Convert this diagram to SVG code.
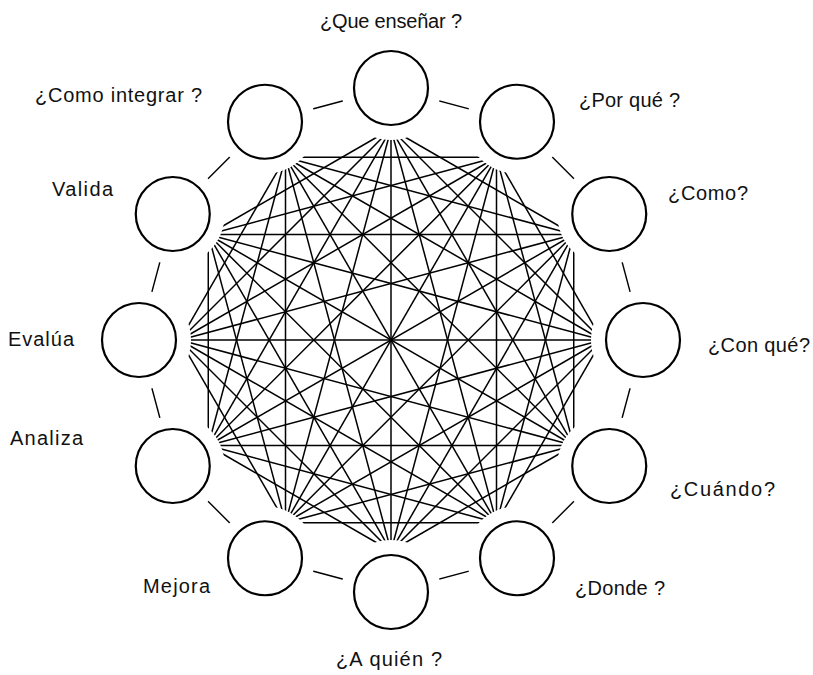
<svg xmlns="http://www.w3.org/2000/svg" width="813" height="675" viewBox="0 0 813 675">
<style>
.node circle{fill:none;stroke:#000;stroke-width:2.2}
.lbl{font-family:"Liberation Sans","DejaVu Sans",sans-serif;font-size:20px;fill:#111}
.ch line{stroke:#000;stroke-width:1.5}
.adj line{stroke:#000;stroke-width:1.4}
</style>
<defs>
<mask id="mIn" maskUnits="userSpaceOnUse" x="0" y="0" width="813" height="675">
<rect x="0" y="0" width="813" height="675" fill="#fff"/>
<g fill="#000">
<circle cx="391" cy="88" r="52"/><circle cx="517" cy="121.76" r="52"/><circle cx="609.24" cy="214" r="52"/>
<circle cx="643" cy="340" r="52"/><circle cx="609.24" cy="466" r="52"/><circle cx="517" cy="558.24" r="52"/>
<circle cx="391" cy="592" r="52"/><circle cx="265" cy="558.24" r="52"/><circle cx="172.76" cy="466" r="52"/>
<circle cx="139" cy="340" r="52"/><circle cx="172.76" cy="214" r="52"/><circle cx="265" cy="121.76" r="52"/>
</g>
</mask>
<mask id="mOut" maskUnits="userSpaceOnUse" x="0" y="0" width="813" height="675">
<rect x="0" y="0" width="813" height="675" fill="#fff"/>
<g fill="#000">
<circle cx="391" cy="88" r="50"/><circle cx="517" cy="121.76" r="50"/><circle cx="609.24" cy="214" r="50"/>
<circle cx="643" cy="340" r="50"/><circle cx="609.24" cy="466" r="50"/><circle cx="517" cy="558.24" r="50"/>
<circle cx="391" cy="592" r="50"/><circle cx="265" cy="558.24" r="50"/><circle cx="172.76" cy="466" r="50"/>
<circle cx="139" cy="340" r="50"/><circle cx="172.76" cy="214" r="50"/><circle cx="265" cy="121.76" r="50"/>
</g>
</mask>
</defs>
<rect x="0" y="0" width="813" height="675" fill="#fff"/>
<g id="connectors">
<g class="ch" mask="url(#mIn)">
<!-- skip 2 -->
<line x1="391" y1="129" x2="573.73" y2="234.5"/>
<line x1="496.5" y1="157.27" x2="602" y2="340"/>
<line x1="573.73" y1="234.5" x2="573.73" y2="445.5"/>
<line x1="602" y1="340" x2="496.5" y2="522.73"/>
<line x1="573.73" y1="445.5" x2="391" y2="551"/>
<line x1="496.5" y1="522.73" x2="285.5" y2="522.73"/>
<line x1="391" y1="551" x2="208.27" y2="445.5"/>
<line x1="285.5" y1="522.73" x2="180" y2="340"/>
<line x1="208.27" y1="445.5" x2="208.27" y2="234.5"/>
<line x1="180" y1="340" x2="285.5" y2="157.27"/>
<line x1="208.27" y1="234.5" x2="391" y2="129"/>
<line x1="285.5" y1="157.27" x2="496.5" y2="157.27"/>
<!-- skip 3 -->
<line x1="391" y1="129" x2="602" y2="340"/>
<line x1="496.5" y1="157.27" x2="573.73" y2="445.5"/>
<line x1="573.73" y1="234.5" x2="496.5" y2="522.73"/>
<line x1="602" y1="340" x2="391" y2="551"/>
<line x1="573.73" y1="445.5" x2="285.5" y2="522.73"/>
<line x1="496.5" y1="522.73" x2="208.27" y2="445.5"/>
<line x1="391" y1="551" x2="180" y2="340"/>
<line x1="285.5" y1="522.73" x2="208.27" y2="234.5"/>
<line x1="208.27" y1="445.5" x2="285.5" y2="157.27"/>
<line x1="180" y1="340" x2="391" y2="129"/>
<line x1="208.27" y1="234.5" x2="496.5" y2="157.27"/>
<line x1="285.5" y1="157.27" x2="573.73" y2="234.5"/>
<!-- skip 4 -->
<line x1="391" y1="129" x2="573.73" y2="445.5"/>
<line x1="496.5" y1="157.27" x2="496.5" y2="522.73"/>
<line x1="573.73" y1="234.5" x2="391" y2="551"/>
<line x1="602" y1="340" x2="285.5" y2="522.73"/>
<line x1="573.73" y1="445.5" x2="208.27" y2="445.5"/>
<line x1="496.5" y1="522.73" x2="180" y2="340"/>
<line x1="391" y1="551" x2="208.27" y2="234.5"/>
<line x1="285.5" y1="522.73" x2="285.5" y2="157.27"/>
<line x1="208.27" y1="445.5" x2="391" y2="129"/>
<line x1="180" y1="340" x2="496.5" y2="157.27"/>
<line x1="208.27" y1="234.5" x2="573.73" y2="234.5"/>
<line x1="285.5" y1="157.27" x2="602" y2="340"/>
<!-- skip 5 -->
<line x1="391" y1="129" x2="496.5" y2="522.73"/>
<line x1="496.5" y1="157.27" x2="391" y2="551"/>
<line x1="573.73" y1="234.5" x2="285.5" y2="522.73"/>
<line x1="602" y1="340" x2="208.27" y2="445.5"/>
<line x1="573.73" y1="445.5" x2="180" y2="340"/>
<line x1="496.5" y1="522.73" x2="208.27" y2="234.5"/>
<line x1="391" y1="551" x2="285.5" y2="157.27"/>
<line x1="285.5" y1="522.73" x2="391" y2="129"/>
<line x1="208.27" y1="445.5" x2="496.5" y2="157.27"/>
<line x1="180" y1="340" x2="573.73" y2="234.5"/>
<line x1="208.27" y1="234.5" x2="602" y2="340"/>
<line x1="285.5" y1="157.27" x2="573.73" y2="445.5"/>
<!-- skip 6 -->
<line x1="391" y1="129" x2="391" y2="551"/>
<line x1="496.5" y1="157.27" x2="285.5" y2="522.73"/>
<line x1="573.73" y1="234.5" x2="208.27" y2="445.5"/>
<line x1="602" y1="340" x2="180" y2="340"/>
<line x1="573.73" y1="445.5" x2="208.27" y2="234.5"/>
<line x1="496.5" y1="522.73" x2="285.5" y2="157.27"/>
</g>
<g class="adj" mask="url(#mOut)">
<line x1="391" y1="88" x2="517" y2="121.76"/>
<line x1="517" y1="121.76" x2="609.24" y2="214"/>
<line x1="609.24" y1="214" x2="643" y2="340"/>
<line x1="643" y1="340" x2="609.24" y2="466"/>
<line x1="609.24" y1="466" x2="517" y2="558.24"/>
<line x1="517" y1="558.24" x2="391" y2="592"/>
<line x1="391" y1="592" x2="265" y2="558.24"/>
<line x1="265" y1="558.24" x2="172.76" y2="466"/>
<line x1="172.76" y1="466" x2="139" y2="340"/>
<line x1="139" y1="340" x2="172.76" y2="214"/>
<line x1="172.76" y1="214" x2="265" y2="121.76"/>
<line x1="265" y1="121.76" x2="391" y2="88"/>
</g>
</g>
<g id="n-que-ensenar" class="node"><circle cx="391" cy="88" r="37"/><text class="lbl" x="320" y="28" textLength="142" lengthAdjust="spacing">¿Que enseñar ?</text></g>
<g id="n-por-que" class="node"><circle cx="517" cy="121.76" r="37"/><text class="lbl" x="579" y="107" textLength="101" lengthAdjust="spacing">¿Por qué ?</text></g>
<g id="n-como" class="node"><circle cx="609.24" cy="214" r="37"/><text class="lbl" x="668" y="200" textLength="80" lengthAdjust="spacing">¿Como?</text></g>
<g id="n-con-que" class="node"><circle cx="643" cy="340" r="37"/><text class="lbl" x="708" y="352" textLength="102" lengthAdjust="spacing">¿Con qué?</text></g>
<g id="n-cuando" class="node"><circle cx="609.24" cy="466" r="37"/><text class="lbl" x="670" y="496" textLength="105" lengthAdjust="spacing">¿Cuándo?</text></g>
<g id="n-donde" class="node"><circle cx="517" cy="558.24" r="37"/><text class="lbl" x="575" y="595" textLength="90" lengthAdjust="spacing">¿Donde ?</text></g>
<g id="n-a-quien" class="node"><circle cx="391" cy="592" r="37"/><text class="lbl" x="336" y="666" textLength="106" lengthAdjust="spacing">¿A quién ?</text></g>
<g id="n-mejora" class="node"><circle cx="265" cy="558.24" r="37"/><text class="lbl" x="143" y="593" textLength="67" lengthAdjust="spacing">Mejora</text></g>
<g id="n-analiza" class="node"><circle cx="172.76" cy="466" r="37"/><text class="lbl" x="10" y="445" textLength="73" lengthAdjust="spacing">Analiza</text></g>
<g id="n-evalua" class="node"><circle cx="139" cy="340" r="37"/><text class="lbl" x="8" y="346" textLength="66" lengthAdjust="spacing">Evalúa</text></g>
<g id="n-valida" class="node"><circle cx="172.76" cy="214" r="37"/><text class="lbl" x="52" y="196" textLength="61" lengthAdjust="spacing">Valida</text></g>
<g id="n-como-integrar" class="node"><circle cx="265" cy="121.76" r="37"/><text class="lbl" x="35" y="102" textLength="167" lengthAdjust="spacing">¿Como integrar ?</text></g>
</svg>
